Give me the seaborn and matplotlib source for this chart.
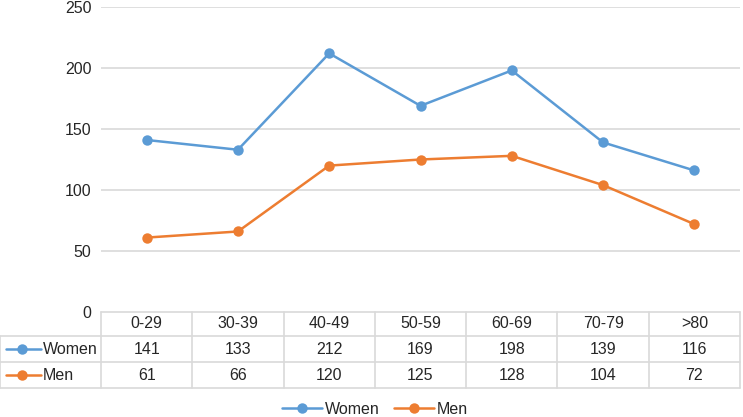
import matplotlib.pyplot as plt
import matplotlib.lines as mlines
import numpy as np
import pandas as pd
import seaborn as sns

# data
age_groups = ['0-29', '30-39', '40-49', '50-59', '60-69', '70-79', '>80']
women = [141, 133, 212, 169, 198, 139, 116]
men = [61, 66, 120, 125, 128, 104, 72]
y_ticks = [0, 50, 100, 150, 200, 250]

c_women = '#5B9BD5'
c_men = '#ED7D31'
c_grid = '#D9D9D9'
c_text = '#262626'

sns.set_theme(style="white")
plt.rcParams['font.family'] = ['Liberation Sans', 'DejaVu Sans']

W, H = 743, 417
fig = plt.figure(figsize=(W / 100, H / 100), dpi=100)

# plot area in pixels
x0, x1 = 101, 740
y_top, y_zero = 7, 312
ax = fig.add_axes([x0 / W, 1 - y_zero / H, (x1 - x0) / W, (y_zero - y_top) / H])

n = len(age_groups)
df = pd.DataFrame({
    'pos': list(range(n)) * 2,
    'value': women + men,
    'series': ['Women'] * n + ['Men'] * n,
})
sns.lineplot(data=df, x='pos', y='value', hue='series',
             palette={'Women': c_women, 'Men': c_men},
             marker='o', markersize=7.5, markeredgewidth=0, linewidth=1.8,
             legend=False, ax=ax)

fs = 11.5
ax.set_xlim(-0.5, n - 0.5)
ax.set_ylim(0, 250)
ax.set_yticks(y_ticks)
ax.set_yticklabels([str(t) for t in y_ticks], fontsize=fs, color=c_text)
ax.tick_params(axis='y', length=0, pad=7)
ax.set_xticks([])
ax.set_xlabel('')
ax.set_ylabel('')
for t in y_ticks[1:]:
    ax.axhline(t, color=c_grid, linewidth=1.2, zorder=0)
for s in ax.spines.values():
    s.set_visible(False)

# data table underneath
tax = fig.add_axes([0, 0, 1, 1])
tax.set_xlim(0, W)
tax.set_ylim(H, 0)
tax.axis('off')

row_lines = [312, 336, 362, 388]
col_w = (x1 - x0) / n
lw = 1.2
# horizontal lines
tax.plot([x0, x1], [row_lines[0]] * 2, color=c_grid, lw=lw)
for yl in row_lines[1:]:
    tax.plot([0, x1], [yl] * 2, color=c_grid, lw=lw)
# vertical lines
tax.plot([0, 0], [row_lines[1], row_lines[3]], color=c_grid, lw=lw)
for i in range(n + 1):
    xv = x0 + i * col_w
    tax.plot([xv, xv], [row_lines[0], row_lines[3]], color=c_grid, lw=lw)

for i, lab in enumerate(age_groups):
    cx = x0 + (i + 0.5) * col_w
    tax.text(cx, (row_lines[0] + row_lines[1]) / 2, lab, ha='center', va='center', fontsize=fs, color=c_text)
    tax.text(cx, (row_lines[1] + row_lines[2]) / 2, str(women[i]), ha='center', va='center', fontsize=fs, color=c_text)
    tax.text(cx, (row_lines[2] + row_lines[3]) / 2, str(men[i]), ha='center', va='center', fontsize=fs, color=c_text)

# legend keys in table rows
for row, name, col in [(1, 'Women', c_women), (2, 'Men', c_men)]:
    yc = (row_lines[row] + row_lines[row + 1]) / 2
    tax.plot([6, 41], [yc, yc], color=col, lw=1.8)
    tax.plot([22], [yc], marker='o', color=col, markersize=7.5, markeredgewidth=0)
    tax.text(43, yc, name, ha='left', va='center', fontsize=fs, color=c_text)

# bottom legend
handles = [
    mlines.Line2D([], [], color=c_women, marker='o', markersize=7.5, markeredgewidth=0, lw=1.8, label='Women'),
    mlines.Line2D([], [], color=c_men, marker='o', markersize=7.5, markeredgewidth=0, lw=1.8, label='Men'),
]
fig.legend(handles=handles, loc='center', bbox_to_anchor=(375 / W, 1 - 409 / H), ncol=2,
           frameon=False, fontsize=fs, handlelength=2.5, handletextpad=0.2, columnspacing=0.9,
           labelcolor=c_text)

fig.savefig('out.png', dpi=100)
